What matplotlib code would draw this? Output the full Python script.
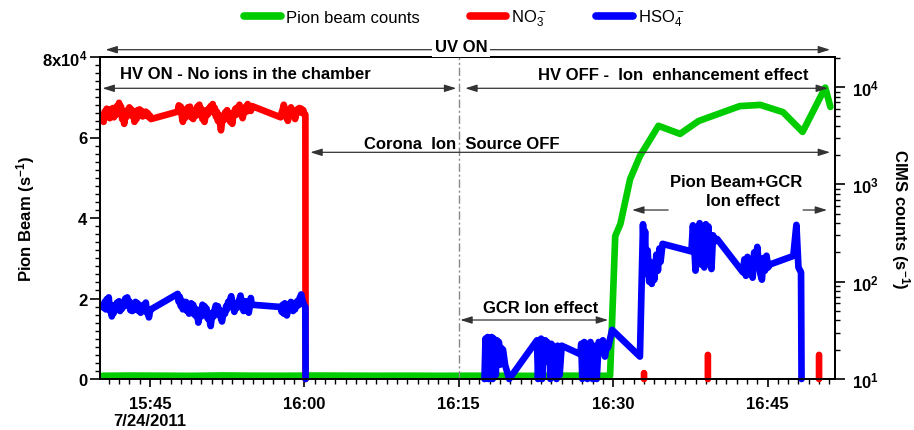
import numpy as np
import matplotlib
matplotlib.use('Agg')
import matplotlib.pyplot as plt
import matplotlib.transforms as mtransforms
from matplotlib.lines import Line2D
from matplotlib.ticker import FixedLocator, MultipleLocator, LogLocator, NullFormatter

plt.rcParams['font.family'] = ['Liberation Sans', 'DejaVu Sans']
plt.rcParams['mathtext.fontset'] = 'custom'
plt.rcParams['mathtext.rm'] = 'Liberation Sans'
plt.rcParams['mathtext.it'] = 'Liberation Sans:italic'
plt.rcParams['mathtext.bf'] = 'Liberation Sans:bold'

# ---------------- data (time = minutes after 16:00, 7/24/2011) ----------------
pion_t = [-19.6, -17.0, -14.0, -11.0, -8.0, -5.0, -2.0, 1.0, 4.0, 7.0, 10.0, 13.0,
          16.0, 19.0, 22.0, 25.0, 28.0, 29.7, 30.2, 30.7, 31.65, 32.6, 34.4, 36.5,
          38.3, 42.3, 44.3, 46.5, 48.4, 50.6, 51.1]
pion_counts = [800, 850, 820, 780, 880, 820, 800, 850, 830, 800, 820, 790,
               810, 800, 780, 820, 800, 800, 35500, 38500, 49700, 55400, 62900, 60900,
               64100, 67800, 68100, 66300, 61400, 72400, 67600]

# CIMS sampling times before the corona source was switched off
cims_t_pre = [-19.5, -19.4, -19.3, -19.2, -19.1, -19.0, -18.9, -18.8, -18.7, -18.6,
              -18.5, -18.4, -18.3, -18.2, -18.1, -18.0, -17.9, -17.8, -17.7, -17.6,
              -17.5, -17.4, -17.3, -17.2, -17.1, -17.0, -16.9, -16.8, -16.7, -16.6,
              -16.5, -16.4, -16.3, -16.2, -16.1, -16.0, -15.9, -15.8, -15.7, -15.6,
              -15.5, -15.4, -15.3, -15.2, -15.1, -15.0, -14.9,
              -12.3, -12.2, -12.1, -12.0, -11.9, -11.8, -11.7, -11.6, -11.5, -11.4,
              -11.3, -11.2, -11.1, -11.0, -10.9, -10.8, -10.7, -10.6, -10.5, -10.4,
              -10.3, -10.2, -10.1, -10.0, -9.9, -9.8, -9.7, -9.6, -9.5, -9.4,
              -9.3, -9.2, -9.1, -9.0, -8.9, -8.8, -8.7, -8.6, -8.5, -8.4,
              -8.3, -8.2, -8.1, -8.0, -7.9, -7.8, -7.7, -7.6, -7.5, -7.4,
              -7.3, -7.2, -7.1, -7.0, -6.9, -6.8, -6.7, -6.6, -6.5, -6.4,
              -6.3, -6.2, -6.1, -6.0, -5.9, -5.8, -5.7, -5.6, -5.5, -5.4,
              -5.3, -5.2, -5.1,
              -2.3, -2.2, -2.1, -2.0, -1.9, -1.8, -1.7, -1.6, -1.5, -1.4,
              -1.3, -1.2, -1.1, -1.0, -0.9, -0.8, -0.7, -0.6, -0.5, -0.4,
              -0.3, -0.2, -0.1, 0.0, 0.1, 0.12]

no3_pre = [4400, 5600, 4900, 6000, 5100, 5900, 4800, 5700, 5000, 6100,
           4900, 6000, 5200, 6400, 5600, 6900, 5800, 6300, 4700, 5200,
           4200, 5400, 4900, 5800, 5200, 6200, 5600, 5900, 5000, 5600,
           4400, 5300, 4700, 5800, 5100, 5900, 5300, 5700, 5000, 5500,
           5200, 5600, 5100, 5400, 4900, 5100, 4700,
           5600, 6500, 5900, 6300, 5000, 4400, 5200, 4800, 5900, 5300,
           6200, 5600, 6300, 4900, 5500, 4700, 5300, 5800, 5100, 6300,
           5500, 6600, 5200, 6000, 4700, 5200, 4400, 5000, 5800, 5200,
           6000, 5500, 6400, 5800, 6700, 5600, 6100, 5000, 5600, 4500,
           5200, 4300, 3600, 4300, 5000, 4600, 5500, 5000, 5800, 4800,
           5400, 4400, 5000, 4200, 5100, 5600, 6000, 5200, 6200, 5600,
           6600, 5400, 5900, 4800, 5300, 5700, 6300, 5600, 6700, 5800,
           6300, 5700, 6400,
           4900, 5500, 5900, 6600, 6000, 5300, 4800, 4500, 5200, 5800,
           6200, 5700, 5100, 5400, 4700, 5300, 5900, 5500, 6100, 5600,
           6000, 5400, 5800, 5300, 5200, 10]

hso4_pre = [54, 62, 52, 66, 56, 69, 50, 58, 44, 52,
            48, 57, 52, 61, 55, 63, 50, 58, 53, 62,
            56, 67, 60, 69, 57, 63, 51, 58, 50, 56,
            52, 62, 55, 60, 50, 57, 48, 55, 50, 58,
            54, 61, 48, 52, 43, 49, 52,
            75, 62, 70, 56, 64, 52, 60, 55, 62, 50,
            57, 47, 55, 60, 52, 58, 46, 53, 44, 48,
            38, 46, 52, 44, 58, 50, 56, 46, 53, 42,
            48, 40, 35, 42, 48, 44, 52, 57, 50, 56,
            46, 51, 42, 39, 45, 50, 47, 56, 52, 62,
            58, 66, 71, 60, 55, 49, 56, 60, 54, 63,
            66, 72, 62, 57, 50, 56, 63, 54, 59, 48,
            56, 68, 58,
            55, 49, 58, 47, 60, 52, 45, 51, 58, 54,
            62, 55, 50, 56, 52, 58, 63, 57, 66, 70,
            74, 65, 60, 57, 55, 10]

hso4_t_post = [17.5, 17.6, 17.7, 17.8, 17.9, 18.0, 18.1, 18.2, 18.3, 18.4,
               18.5, 18.6, 18.7, 18.8, 18.9, 19.0, 19.1, 19.3, 19.5, 19.9,
               22.6, 22.7, 22.8, 22.9, 23.0, 23.1, 23.2, 23.4, 23.5, 23.6,
               23.8, 23.9, 24.0, 24.2, 24.4, 24.5, 24.6, 24.8, 25.0,
               26.8, 26.9, 27.0, 27.2, 27.4, 27.5, 27.6, 27.8, 28.0, 28.1,
               28.3, 28.4, 28.6, 28.8, 29.0, 29.2, 29.4, 29.5, 29.9,
               32.6, 32.9, 33.0, 33.1, 33.2, 33.35, 33.5, 33.6, 33.75, 33.9,
               34.0, 34.2, 34.35, 34.5, 34.6, 34.8,
               37.6, 37.75, 37.9, 38.0, 38.15, 38.3, 38.4, 38.55, 38.7, 38.85,
               39.0, 39.1, 39.25, 39.4, 39.55, 39.7, 39.9, 40.1,
               42.6, 42.75, 42.9, 43.05, 43.2, 43.4, 43.55, 43.7, 43.85, 44.0,
               44.15, 44.3, 44.45, 44.6, 44.75, 44.9, 45.05, 45.2,
               47.5, 47.8, 48.0, 48.25, 48.3]
hso4_post = [10, 26, 11, 27, 10, 25, 12, 27, 10, 26,
             22, 11, 25, 19, 24, 14, 21, 20, 14, 10,
             25, 10, 24, 18, 26, 10, 22, 25, 15, 24,
             20, 10, 23, 21, 18, 10, 22, 11, 22,
             18, 23, 10, 24, 16, 10, 22, 24, 10, 22,
             15, 10, 24, 19, 25, 17, 23, 21, 32,
             17, 390, 180, 330, 120, 210, 100, 160, 95, 140,
             105, 190, 130, 220, 160, 245,
             205, 380, 210, 130, 360, 190, 400, 150, 330, 140,
             390, 170, 370, 200, 135, 300, 260, 275,
             125, 170, 115, 180, 130, 150, 110, 200, 140, 228,
             150, 120, 105, 175, 130, 185, 140, 150,
             184, 384, 140, 125, 10]

no3_spike_t = [33.0, 39.2, 50.0]
no3_spike_top = [11.5, 17.7, 17.7]
cims_floor = 10

xtick_pos = [-15, 0, 15, 30, 45]
xtick_labels = ['15:45\n7/24/2011', '16:00', '16:15', '16:30', '16:45']
ltick_pos = [0, 2e4, 4e4, 6e4, 8e4]
ltick_labels = ['0', '2', '4', '6', r'8x10$^{\mathbf{4}}$']
rtick_pos = [10, 100, 1000, 10000]
rtick_labels = [r'$\mathbf{10^{1}}$', r'$\mathbf{10^{2}}$', r'$\mathbf{10^{3}}$', r'$\mathbf{10^{4}}$']

GREEN, RED, BLUE = '#00cc00', '#ff0000', '#0000ff'
LW = 4.8

# ---------------- figure ----------------
fig = plt.figure(figsize=(9.14, 4.31), dpi=100)
ax = fig.add_axes([100/914, 1-380/431, 735/914, 322/431])
ax2 = ax.twinx()

ax.set_xlim(-19.85, 51.55)
ax.set_ylim(0, 8e4)
ax2.set_yscale('log')
ax2.set_ylim(10, 10**4.31)

line_kw = dict(lw=LW, solid_capstyle='round', solid_joinstyle='round')
ax.plot(pion_t, pion_counts, color=GREEN, **line_kw)

no3_t_all = list(cims_t_pre)
no3_v_all = list(no3_pre)
for t, top in zip(no3_spike_t, no3_spike_top):
    no3_t_all += [np.nan, t, t]
    no3_v_all += [np.nan, cims_floor, top]
ax2.plot(no3_t_all, no3_v_all, color=RED, clip_on=False, **line_kw)

hso4_t_all = list(cims_t_pre) + [np.nan] + list(hso4_t_post)
hso4_v_all = list(hso4_pre) + [np.nan] + list(hso4_post)
ax2.plot(hso4_t_all, hso4_v_all, color=BLUE, clip_on=False, **line_kw)

# ---------------- axes styling ----------------
for a in (ax, ax2):
    for s in a.spines.values():
        s.set_linewidth(1.3)

ax.set_xticks(xtick_pos)
ax.set_xticklabels(xtick_labels, fontsize=12, fontweight='bold')
ax.xaxis.set_minor_locator(MultipleLocator(1))
ax.tick_params(axis='x', which='major', length=6, width=1.2, pad=6, direction='out')
ax.tick_params(axis='x', which='minor', length=3.5, width=1, direction='out')

ax.set_yticks(ltick_pos)
ax.set_yticklabels(ltick_labels, fontsize=12, fontweight='bold')
ax.yaxis.set_minor_locator(MultipleLocator(2000))
ax.tick_params(axis='y', which='major', length=7, width=1.2, pad=2, direction='out')
ax.tick_params(axis='y', which='minor', length=3.5, width=1, direction='out')

ax2.yaxis.set_major_locator(FixedLocator(rtick_pos))
ax2.set_yticklabels(rtick_labels, fontsize=12)
ax2.yaxis.set_minor_locator(LogLocator(base=10, subs=np.arange(2, 10)))
ax2.yaxis.set_minor_formatter(NullFormatter())
ax2.tick_params(axis='y', which='major', length=7, width=1.2, pad=5, direction='out')
ax2.tick_params(axis='y', which='minor', length=3.5, width=1, direction='out')

ax.set_ylabel(r'Pion Beam (s$^{\mathbf{-1}}$)', fontsize=12, fontweight='bold')
ax.yaxis.set_label_coords(-0.086, 0.5)
ax2.set_ylabel(r'CIMS counts (s$^{\mathbf{-1}}$)', fontsize=12, fontweight='bold',
               rotation=270, va='bottom')
ax2.yaxis.set_label_coords(1.073, 0.5)

# ---------------- legend ----------------
handles = [Line2D([], [], color=c, lw=5.5, solid_capstyle='round') for c in (GREEN, RED, BLUE)]
fig.legend(handles, ['Pion beam counts', r'NO$_3^-$', r'HSO$_4^-$'],
           loc='center', bbox_to_anchor=(0.508, 0.956), ncol=3, frameon=False,
           fontsize=12, handlelength=2.2, handletextpad=0.3, columnspacing=3.0)

# ---------------- annotations ----------------
tr = mtransforms.blended_transform_factory(ax2.transData, ax2.transAxes)
ARROW_COLOR = '#333333'

def arrow(x0, x1, yf, style='<|-|>'):
    ax2.annotate('', xy=(x1, yf), xytext=(x0, yf),
                 xycoords=tr, textcoords=tr, annotation_clip=False,
                 arrowprops=dict(arrowstyle=style + ',head_length=0.7,head_width=0.22',
                                 color=ARROW_COLOR, lw=0.9, shrinkA=0, shrinkB=0,
                                 mutation_scale=10))

def label(x, yf, s, **kw):
    ax2.text(x, yf, s, transform=tr, ha='center', va='center', fontsize=12,
             fontweight='bold', clip_on=False, **kw)

ax2.axvline(15.0, color='#888888', lw=1.0, linestyle=(0, (6, 2, 1.5, 2)))

arrow(-19.32, 51.07, 1.0227)
label(15.24, 1.0326, 'UV ON', bbox=dict(facecolor='white', edgecolor='none', pad=2))

arrow(-19.61, 14.76, 0.9028)
label(-5.68, 0.9503, 'HV ON - No ions in the chamber')

arrow(15.63, 50.87, 0.9028)
label(35.87, 0.9441, 'HV OFF -  Ion  enhancement effect')

arrow(0.58, 51.07, 0.7040)
label(15.29, 0.7314, 'Corona  Ion  Source OFF')

label(41.94, 0.6149, 'Pion Beam+GCR')
label(42.62, 0.5528, 'Ion effect')
arrow(35.34, 31.84, 0.5248, style='-|>')
arrow(48.45, 50.78, 0.5248, style='-|>')

arrow(15.15, 29.51, 0.1832)
label(22.96, 0.2205, 'GCR Ion effect')

fig.savefig('out.png', dpi=100)
